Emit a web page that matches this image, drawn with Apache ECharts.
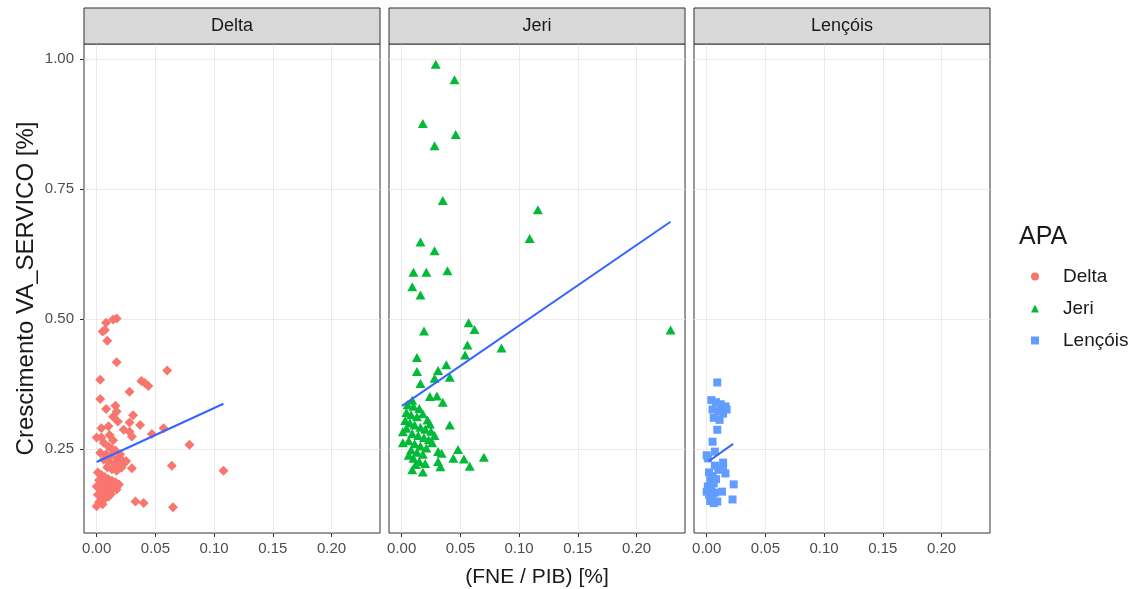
<!DOCTYPE html>
<html>
<head>
<meta charset="utf-8">
<script src="https://cdn.jsdelivr.net/npm/echarts@6/dist/echarts.min.js"></script>
<style>
  html, body { margin: 0; padding: 0; background: #fff; }
  #chart { width: 1140px; height: 589px; }
</style>
</head>
<body>
<div id="chart"></div>
<script>
// facets / legend categories
const panels = ['Delta', 'Jeri', 'Lençóis'];
const colors = ['#F8766D', '#00BA38', '#619CFF'];

// tick labels
const xTicks = [0, 0.05, 0.1, 0.15, 0.2];
const yTicks = [0.25, 0.5, 0.75, 1.0];

// [FNE/PIB, Crescimento]
const deltaPoints = [
    [0.017, 0.501], [0.014, 0.499], [0.008, 0.493], [0.007, 0.479], [0.005, 0.476],
    [0.009, 0.458], [0.017, 0.417], [0.060, 0.401], [0.003, 0.383], [0.038, 0.381],
    [0.041, 0.377], [0.044, 0.371], [0.028, 0.360], [0.003, 0.346], [0.016, 0.333],
    [0.008, 0.327], [0.017, 0.322], [0.014, 0.312], [0.031, 0.315], [0.028, 0.301],
    [0.037, 0.296], [0.018, 0.303], [0.004, 0.290], [0.010, 0.294], [0.023, 0.287],
    [0.028, 0.283], [0.057, 0.290], [0.047, 0.279], [0.030, 0.274], [0.000, 0.272],
    [0.004, 0.272], [0.011, 0.277], [0.014, 0.267], [0.079, 0.258], [0.064, 0.218],
    [0.030, 0.213], [0.108, 0.208], [0.033, 0.149], [0.040, 0.146], [0.065, 0.138],
    [0.006, 0.262], [0.010, 0.255], [0.013, 0.250], [0.016, 0.247], [0.003, 0.243],
    [0.008, 0.240], [0.012, 0.236], [0.018, 0.232], [0.022, 0.228], [0.024, 0.224],
    [0.006, 0.230], [0.010, 0.226], [0.015, 0.222], [0.019, 0.218], [0.021, 0.214],
    [0.009, 0.215], [0.013, 0.211], [0.017, 0.208], [0.025, 0.227], [0.020, 0.240],
    [0.001, 0.205], [0.004, 0.200], [0.007, 0.196], [0.010, 0.192], [0.013, 0.189],
    [0.016, 0.186], [0.019, 0.182], [0.002, 0.190], [0.005, 0.185], [0.008, 0.181],
    [0.011, 0.178], [0.014, 0.175], [0.017, 0.172], [0.000, 0.178], [0.003, 0.173],
    [0.006, 0.169], [0.009, 0.166], [0.012, 0.163], [0.001, 0.162], [0.004, 0.158],
    [0.007, 0.155], [0.002, 0.148], [0.005, 0.144], [0.000, 0.140], [0.008, 0.168],
    [0.011, 0.171], [0.006, 0.176], [0.003, 0.164], [0.010, 0.158]
];
const jeriPoints = [
    [0.029, 0.990], [0.045, 0.960], [0.018, 0.876], [0.046, 0.855], [0.028, 0.833],
    [0.035, 0.728], [0.116, 0.710], [0.109, 0.655], [0.016, 0.648], [0.028, 0.631],
    [0.010, 0.590], [0.021, 0.590], [0.039, 0.593], [0.009, 0.562], [0.016, 0.546],
    [0.057, 0.493], [0.062, 0.480], [0.019, 0.477], [0.056, 0.450], [0.085, 0.444],
    [0.054, 0.431], [0.013, 0.426], [0.038, 0.412], [0.031, 0.401], [0.013, 0.399],
    [0.028, 0.386], [0.041, 0.388], [0.016, 0.376], [0.024, 0.351], [0.030, 0.352],
    [0.035, 0.340], [0.009, 0.344], [0.041, 0.296], [0.001, 0.283], [0.001, 0.262],
    [0.031, 0.245], [0.034, 0.242], [0.031, 0.226], [0.048, 0.249], [0.044, 0.232],
    [0.053, 0.231], [0.058, 0.217], [0.070, 0.234], [0.033, 0.216], [0.009, 0.210],
    [0.018, 0.206], [0.229, 0.479],
    [0.005, 0.335], [0.010, 0.332], [0.015, 0.328], [0.004, 0.320], [0.008, 0.316],
    [0.013, 0.312], [0.018, 0.318], [0.022, 0.306], [0.003, 0.305], [0.007, 0.300],
    [0.011, 0.296], [0.016, 0.292], [0.020, 0.288], [0.025, 0.284], [0.004, 0.290],
    [0.009, 0.280], [0.014, 0.276], [0.019, 0.272], [0.023, 0.268], [0.006, 0.266],
    [0.011, 0.260], [0.016, 0.256], [0.021, 0.252], [0.026, 0.262], [0.008, 0.248],
    [0.013, 0.244], [0.018, 0.240], [0.010, 0.232], [0.015, 0.226], [0.020, 0.222],
    [0.006, 0.238], [0.024, 0.298], [0.028, 0.276], [0.012, 0.220]
];
const lencoisPoints = [
    [0.009, 0.378], [0.004, 0.344], [0.008, 0.340], [0.012, 0.336], [0.016, 0.332],
    [0.005, 0.326], [0.010, 0.322], [0.014, 0.318], [0.017, 0.326], [0.006, 0.310],
    [0.011, 0.306], [0.009, 0.287], [0.005, 0.264], [0.007, 0.245], [0.001, 0.232],
    [0.000, 0.238], [0.014, 0.224], [0.014, 0.213], [0.016, 0.203], [0.023, 0.182],
    [0.013, 0.168], [0.022, 0.153], [0.009, 0.149],
    [0.002, 0.205], [0.005, 0.198], [0.003, 0.190], [0.006, 0.184], [0.001, 0.178],
    [0.004, 0.172], [0.007, 0.166], [0.002, 0.162], [0.005, 0.157], [0.000, 0.168],
    [0.003, 0.150], [0.006, 0.146], [0.008, 0.192], [0.010, 0.210], [0.007, 0.218]
];

// linear fit endpoints (geom_smooth, method = lm)
const deltaFit = [[0.0, 0.225], [0.108, 0.337]];
const jeriFit = [[0.0003, 0.333], [0.229, 0.687]];
const lencoisFit = [[0.0014, 0.226], [0.0225, 0.260]];

const pointSets = [deltaPoints, jeriPoints, lencoisPoints];
const fitSets = [deltaFit, jeriFit, lencoisFit];
const symbols = ['diamond', 'triangle', 'rect'];
const symbolSizes = [10, [10, 9], 8];

const FONT = 'Liberation Sans, Arial, sans-serif';
const PANEL_LEFT = 84, PANEL_W = 296, PANEL_GAP = 9;
const PANEL_TOP = 44, PANEL_H = 489, STRIP_H = 36;

const grids = [], xAxes = [], yAxes = [], series = [], graphics = [];

panels.forEach((name, i) => {
    const left = PANEL_LEFT + i * (PANEL_W + PANEL_GAP);
    grids.push({
        left: left, top: PANEL_TOP, width: PANEL_W, height: PANEL_H,
        show: true, borderColor: '#333', borderWidth: 1, backgroundColor: '#fff'
    });
    xAxes.push({
        type: 'value', gridIndex: i, min: -0.0108, max: 0.2413,
        axisLine: { show: false, onZero: false },
        axisTick: { show: true, length: 4, customValues: xTicks, lineStyle: { color: '#333' } },
        axisLabel: {
            customValues: xTicks, color: '#4D4D4D', fontSize: 15, fontFamily: FONT, margin: 8,
            formatter: (v) => v.toFixed(2)
        },
        splitLine: { show: true, lineStyle: { color: '#EBEBEB', width: 1 } }
    });
    yAxes.push({
        type: 'value', gridIndex: i, min: 0.0885, max: 1.0288,
        axisLine: { show: false, onZero: false },
        axisTick: { show: i === 0, length: 4, customValues: yTicks, lineStyle: { color: '#333' } },
        axisLabel: {
            show: i === 0, customValues: yTicks, color: '#4D4D4D', fontSize: 15, fontFamily: FONT, margin: 10,
            formatter: (v) => v.toFixed(2)
        },
        splitLine: { show: true, lineStyle: { color: '#EBEBEB', width: 1 } },
        name: i === 0 ? 'Crescimento VA_SERVICO [%]' : '',
        nameLocation: 'middle', nameGap: 46, nameRotate: 90,
        nameTextStyle: { fontSize: 24, color: '#1A1A1A', fontFamily: FONT }
    });
    series.push({
        name: name, type: 'scatter', xAxisIndex: i, yAxisIndex: i,
        data: pointSets[i], symbol: symbols[i], symbolSize: symbolSizes[i],
        itemStyle: { color: colors[i], opacity: 1 }
    });
    series.push({
        name: name + ' fit', type: 'line', xAxisIndex: i, yAxisIndex: i,
        data: fitSets[i], symbol: 'none', silent: true,
        lineStyle: { color: '#3366FF', width: 2 }, z: 3
    });
    // facet strip
    graphics.push({
        type: 'rect', z: 100, shape: { x: left, y: PANEL_TOP - STRIP_H, width: PANEL_W, height: STRIP_H },
        style: { fill: '#D9D9D9', stroke: '#333', lineWidth: 1 }
    });
    graphics.push({
        type: 'text', z: 101, x: left + PANEL_W / 2, y: PANEL_TOP - STRIP_H / 2,
        style: { text: name, fill: '#1A1A1A', fontSize: 18, fontFamily: FONT, align: 'center', verticalAlign: 'middle' }
    });
});

graphics.push({
    type: 'text', x: PANEL_LEFT + (3 * PANEL_W + 2 * PANEL_GAP) / 2, y: 577,
    style: { text: '(FNE / PIB) [%]', fill: '#1A1A1A', fontSize: 21, fontFamily: FONT, align: 'center', verticalAlign: 'middle' }
});
graphics.push({
    type: 'text', x: 1019, y: 237,
    style: { text: 'APA', fill: '#1A1A1A', fontSize: 25, fontFamily: FONT, align: 'left', verticalAlign: 'middle' }
});

const chart = echarts.init(document.getElementById('chart'), null, { renderer: 'canvas' });
chart.setOption({
    animation: false,
    backgroundColor: '#fff',
    grid: grids,
    xAxis: xAxes,
    yAxis: yAxes,
    legend: {
        orient: 'vertical', left: 1031, top: 267, padding: 0, itemGap: 13,
        itemWidth: 8, itemHeight: 8,
        textStyle: { fontSize: 19, lineHeight: 18, color: '#1A1A1A', fontFamily: FONT, padding: [0, 0, 0, 19] },
        data: [
            { name: 'Delta', icon: 'circle' },
            { name: 'Jeri', icon: 'triangle' },
            { name: 'Lençóis', icon: 'rect' }
        ]
    },
    graphic: graphics,
    series: series
});
</script>
</body>
</html>
